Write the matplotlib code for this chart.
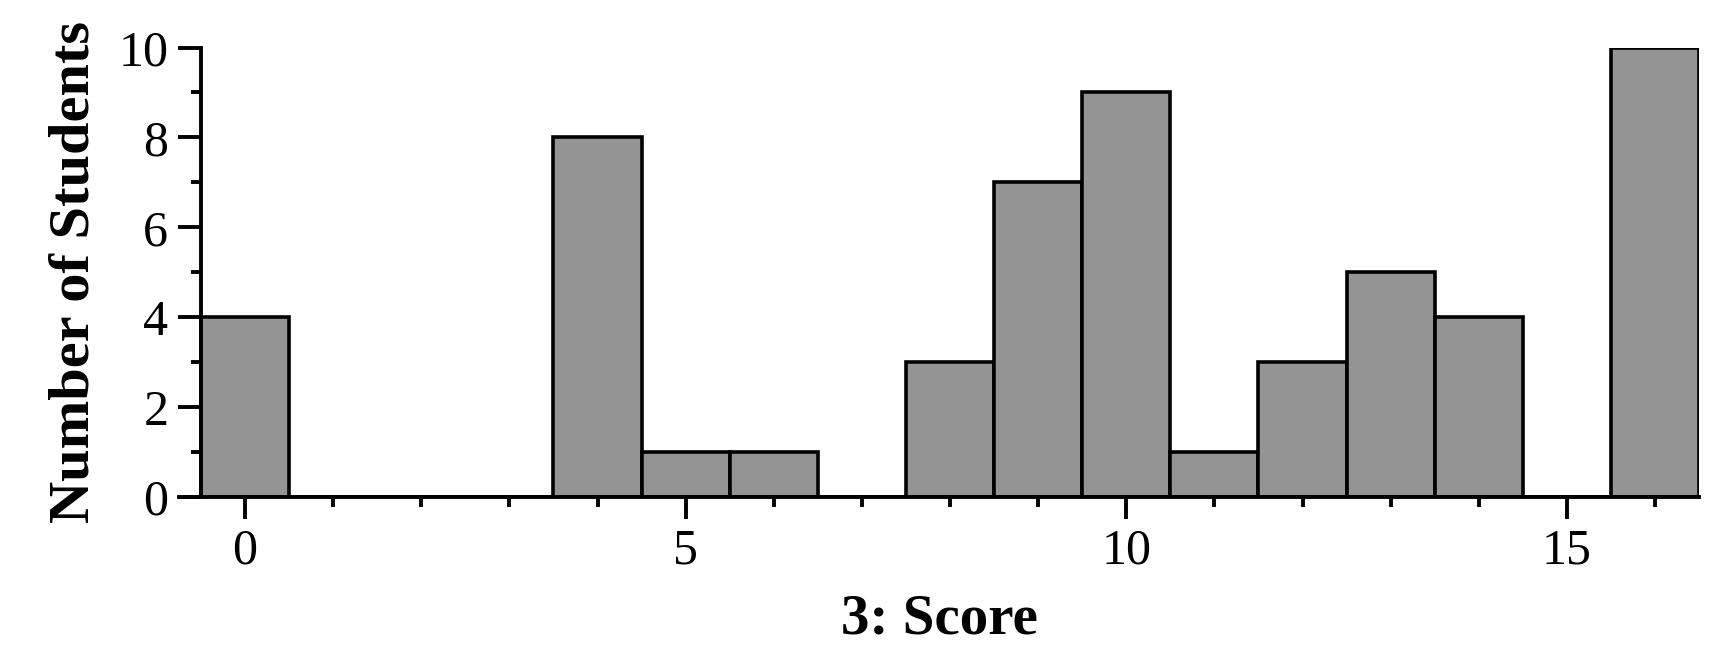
import numpy as np
import matplotlib.pyplot as plt
from matplotlib.ticker import MultipleLocator

scores = [0, 1, 2, 3, 4, 5, 6, 7, 8, 9, 10, 11, 12, 13, 14, 15, 16]
students = [4, 0, 0, 0, 8, 1, 1, 0, 3, 7, 9, 1, 3, 5, 4, 0, 10]
x_ticks = [0, 5, 10, 15]
y_ticks = [0, 2, 4, 6, 8, 10]

plt.rcParams['font.family'] = ['Liberation Serif', 'DejaVu Serif']

fig = plt.figure(figsize=(17.32, 6.5), dpi=100)
ax = fig.add_axes([0.1033, 0.2354, 0.981 - 0.1033, 0.9269 - 0.2354])

ax.bar(scores, students, width=1.0, color='#949494', edgecolor='black',
       linewidth=2.6, zorder=2)

ax.set_xlim(-0.75, 16.5)
ax.set_ylim(0, 10)

ax.spines['top'].set_visible(False)
ax.spines['right'].set_visible(False)
ax.spines['left'].set_position(('data', -0.5))
for side in ['left', 'bottom']:
    ax.spines[side].set_linewidth(2.8)
    ax.spines[side].set_zorder(3)

ax.set_xticks(x_ticks)
ax.set_yticks(y_ticks)
ax.xaxis.set_minor_locator(MultipleLocator(1))
ax.yaxis.set_minor_locator(MultipleLocator(1))

ax.tick_params(axis='x', which='major', direction='out', length=16,
               width=2.8, labelsize=36, pad=6)
ax.tick_params(axis='x', which='minor', direction='out', length=7, width=2.8)
ax.tick_params(axis='y', which='major', direction='out', length=16.5,
               width=2.8, labelsize=36, pad=7)
ax.tick_params(axis='y', which='minor', direction='out', length=7, width=2.8)

ax.set_xlabel('3: Score', fontsize=41, fontweight='bold', labelpad=14)
ax.set_ylabel('Number of Students', fontsize=42, fontweight='bold',
              labelpad=13)

fig.savefig('out.png', dpi=100)
